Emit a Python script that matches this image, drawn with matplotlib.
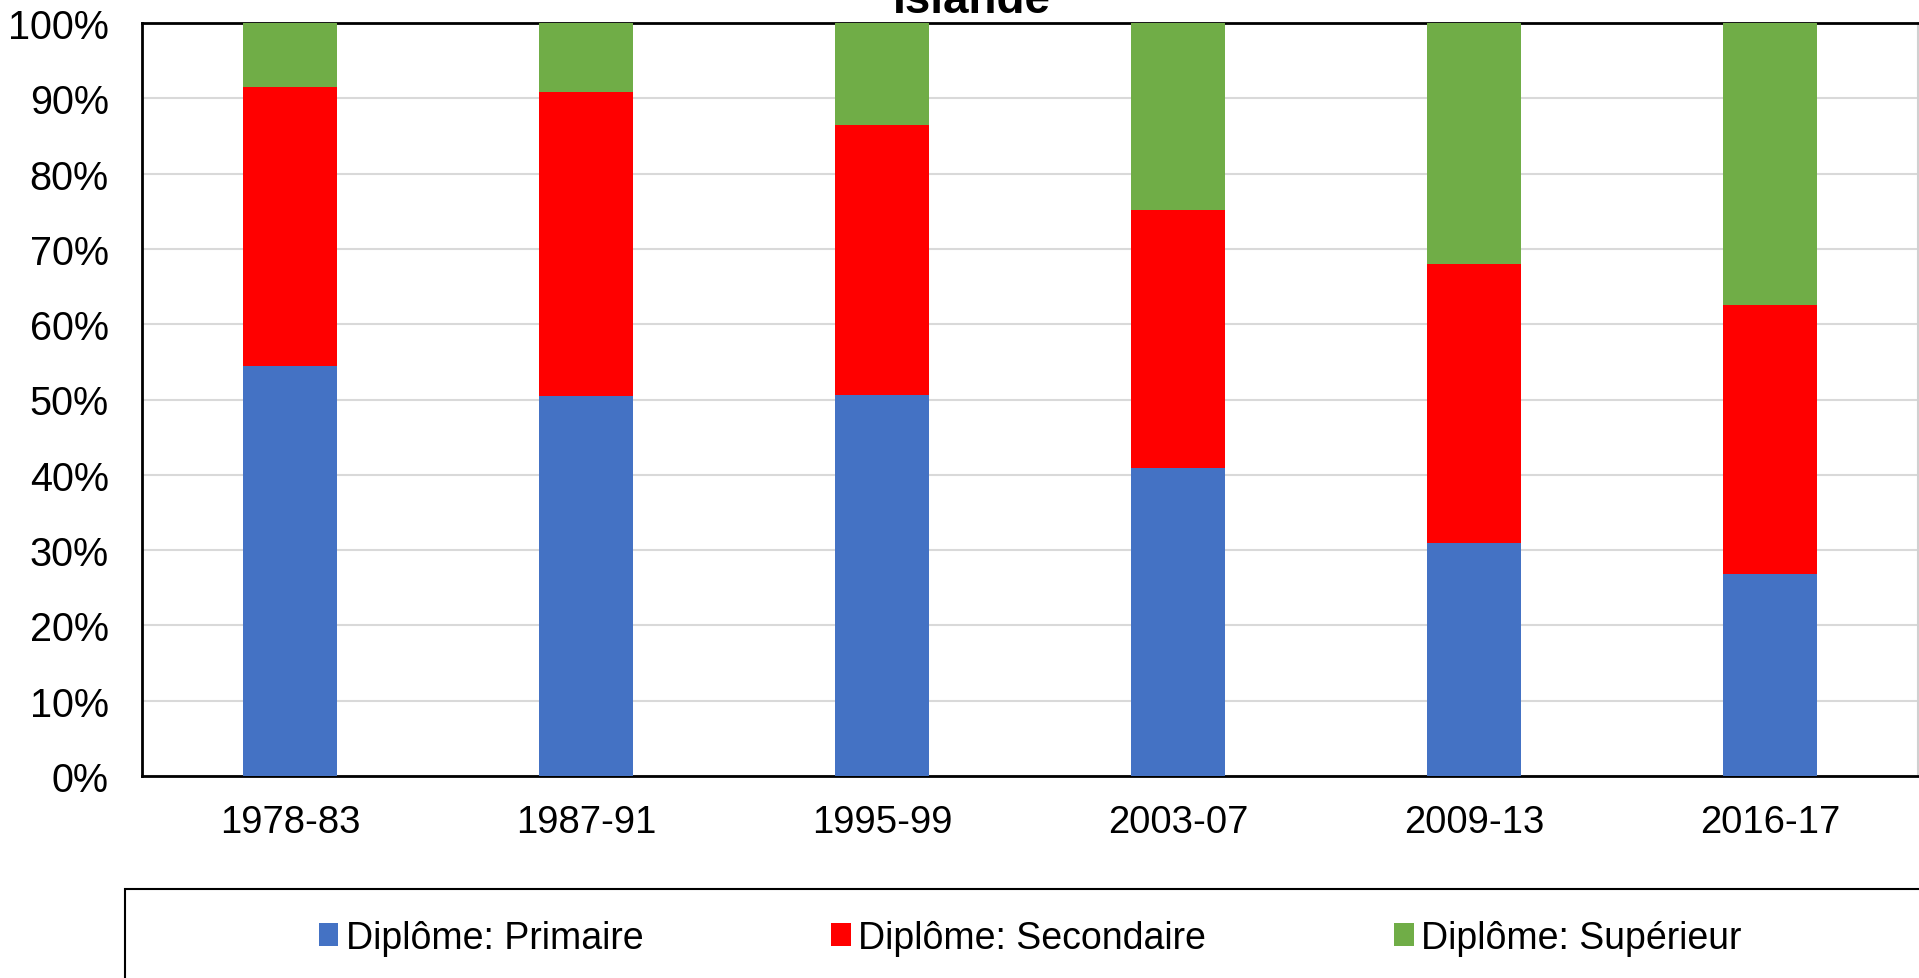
import matplotlib
matplotlib.use("Agg")
import matplotlib.pyplot as plt
from matplotlib.patches import Rectangle

plt.rcParams['font.family'] = ['Liberation Sans', 'DejaVu Sans']

periodes = ['1978-83', '1987-91', '1995-99', '2003-07', '2009-13', '2016-17']
primaire = [54.4, 50.5, 50.6, 40.9, 30.9, 26.8]
secondaire = [37.1, 40.3, 35.9, 34.3, 37.1, 35.8]
superieur = [100 - p - s for p, s in zip(primaire, secondaire)]

series = ['Diplôme: Primaire', 'Diplôme: Secondaire', 'Diplôme: Supérieur']
couleurs = ['#4472c4', '#ff0000', '#70ad47']

fig = plt.figure(figsize=(19.19, 9.79), dpi=100)
ax = fig.add_axes([142/1919, 1 - 777/979, (1918 - 142)/1919, (777 - 24)/979])

x = range(len(periodes))
bas = [0] * len(periodes)
for vals, lab, c in zip([primaire, secondaire, superieur], series, couleurs):
    ax.bar(x, vals, width=0.32, bottom=bas, color=c, label=lab, zorder=3)
    bas = [b + v for b, v in zip(bas, vals)]

ax.set_xlim(-0.5, len(periodes) - 0.5)
ax.set_ylim(0, 100)
ax.set_yticks(range(0, 101, 10))
ax.set_yticklabels([f'{v}%' for v in range(0, 101, 10)])
ax.set_xticks(list(x))
ax.set_xticklabels(periodes)
ax.tick_params(axis='y', length=0, labelsize=28.5, pad=24)
ax.tick_params(axis='x', length=0, labelsize=27.5, pad=20)
ax.yaxis.grid(True, color='#d9d9d9', linewidth=1.5, zorder=0)
ax.set_axisbelow(True)
for s in ['left', 'bottom', 'top']:
    ax.spines[s].set_color('black')
    ax.spines[s].set_linewidth(2)
ax.spines['right'].set_color('#d0d0d0')
ax.spines['right'].set_linewidth(1.5)

fig.text(972/1919, 1 - 13/979, 'Islande', ha='center', va='baseline',
         fontsize=33, fontweight='bold')

# cadre de la légende (coupé par le bord de l'image)
fig.patches.append(Rectangle((125/1919, -0.1), 1.0, 1 - 890/979 + 0.1,
                             transform=fig.transFigure, fill=False,
                             edgecolor='black', linewidth=1.5))

handles, labels = ax.get_legend_handles_labels()
fig.legend(handles, labels, loc='center', bbox_to_anchor=(1030/1919, 1 - 939/979),
           ncol=3, frameon=False, fontsize=27, handlelength=0.53, handleheight=0.56,
           handletextpad=0.2, columnspacing=5.0)

fig.savefig('out.png', dpi=100)
